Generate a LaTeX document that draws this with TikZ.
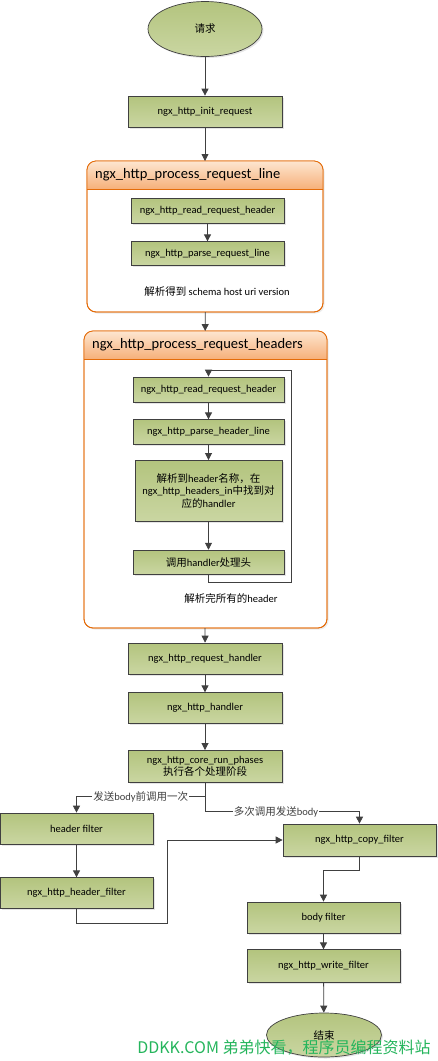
\documentclass[tikz,border=0pt]{standalone}
\usepackage{fontspec}
\setmainfont{Carlito}
\newfontfamily\cjk{Noto Sans CJK SC}
\usetikzlibrary{arrows.meta, positioning, shapes.geometric, shadows, calc}
\definecolor{ngxtop}{HTML}{B3C47E}
\definecolor{ngxbot}{HTML}{CAD6A2}
\definecolor{ngxline}{HTML}{404040}
\definecolor{ngxorange}{HTML}{E46C0A}
\definecolor{ngxpeach}{HTML}{FDE6D0}
\definecolor{ngxamber}{HTML}{F6B07A}
\definecolor{ngxmark}{HTML}{25B55C}
\tikzset{
  fn/.style={rectangle, draw=ngxline, line width=0.7pt, top color=ngxtop, bottom color=ngxbot,
    minimum width=154pt, minimum height=31pt, inner sep=1pt, align=center,
    font=\fontsize{10.5}{12.5}\selectfont,
    drop shadow={shadow xshift=1.5pt, shadow yshift=-1.5pt, opacity=0.2}},
  term/.style={ellipse, draw=ngxline, line width=0.7pt, top color=ngxtop, bottom color=ngxbot,
    minimum width=114pt, minimum height=55pt, inner sep=0pt, font=\fontsize{10.5}{12.5}\selectfont,
    drop shadow={shadow xshift=1.5pt, shadow yshift=-1.5pt, opacity=0.2}},
  grp/.style={rectangle, rounded corners=9pt, draw=ngxorange, line width=0.8pt, fill=white,
    outer sep=0pt, inner sep=0pt,
    drop shadow={shadow xshift=1.5pt, shadow yshift=-1.5pt, opacity=0.15}},
  grphead/.style={anchor=west, inner sep=0pt, font=\fontsize{14.5}{16}\selectfont},
  note/.style={inner sep=1pt, font=\fontsize{10.5}{12.5}\selectfont},
  arr/.style={-{Triangle[length=7pt, width=7pt]}, line width=0.8pt, ngxline},
}

\begin{document}
\begin{tikzpicture}[x=1pt, y=1pt]
    \useasboundingbox[fill=white] (0,0) rectangle (438,-1061);

    \node[term] (req) at (205,-29) {\cjk 请求};
    \node[fn] (init) at (205,-111.5) {ngx\_http\_init\_request};

    % the two orange phase groups
    \node[grp, minimum width=236pt, minimum height=151pt] (gline) at (205,-236.5) {};
    \node[grp, minimum width=243pt, minimum height=297pt] (gheads) at (205.5,-479.5) {};
    \foreach \g in {gline, gheads} {
      \begin{scope}
        \clip[rounded corners=9pt] (\g.north west) rectangle (\g.south east);
        \shade[top color=ngxpeach, bottom color=ngxamber] (\g.north west) rectangle ($(\g.north east)+(0,-28)$);
      \end{scope}
      \draw[ngxorange, line width=0.8pt] ($(\g.north west)+(0,-28)$) -- ($(\g.north east)+(0,-28)$);
      \draw[ngxorange, line width=0.8pt, rounded corners=9pt] (\g.north west) rectangle (\g.south east);
    }
    \node[grphead] (glinettl) at ($(gline.north west)+(8,-14)$) {ngx\_http\_process\_request\_line};
    \node[grphead] (gheadsttl) at ($(gheads.north west)+(8,-14)$) {ngx\_http\_process\_request\_headers};

    \node[fn, minimum width=153pt, minimum height=25pt] (readline) at (207.5,-210.5) {ngx\_http\_read\_request\_header};
    \node[fn, minimum width=153pt, minimum height=24pt, below=18pt of readline] (parseline) {ngx\_http\_parse\_request\_line};
    \node[note] (linenote) at (217,-292) {{\cjk 解析得到} schema host uri version};

    \node[fn, minimum width=151pt, minimum height=25pt] (readhdr) at (208.5,-389.5) {ngx\_http\_read\_request\_header};
    \node[fn, minimum width=151pt, minimum height=25pt, below=17pt of readhdr] (parsehdr) {ngx\_http\_parse\_header\_line};
    \node[fn, minimum width=147pt, minimum height=61pt, below=15pt of parsehdr] (lookup)
      {{\cjk 解析到}header{\cjk 名称，在}\\ngx\_http\_headers\_in{\cjk 中找到对}\\{\cjk 应的}handler};
    \node[fn, minimum width=151pt, minimum height=24pt, below=28pt of lookup] (callhdl) {{\cjk 调用}handler{\cjk 处理头}};
    \node[note] (hdrsnote) at (231,-598) {{\cjk 解析完所有的}header};
    \coordinate (loopturn) at (291,-370);

    \node[fn] (reqhdl) at (205,-658.5) {ngx\_http\_request\_handler};
    \node[fn, below=18pt of reqhdl] (hdl) {ngx\_http\_handler};
    \node[fn, minimum height=32pt, below=26pt of hdl] (phases) {ngx\_http\_core\_run\_phases\\{\cjk 执行各个处理阶段}};

    \node[fn, minimum width=153pt] (hdrflt) at (76.5,-828.5) {header filter};
    \node[fn, minimum width=153pt, below=33pt of hdrflt] (ngxhdrflt) {ngx\_http\_header\_filter};
    \node[fn, minimum width=153pt, minimum height=32pt] (copyflt) at (359.5,-840) {ngx\_http\_copy\_filter};
    \node[fn, minimum width=153pt] (bodyflt) at (323.5,-917.5) {body filter};
    \node[fn, minimum width=153pt, minimum height=33pt, below=16pt of bodyflt] (writeflt) {ngx\_http\_write\_filter};
    \node[term, minimum width=115pt, minimum height=44pt] (fin) at (324,-1035) {\cjk 结束};

    \draw[arr] (req) -- (init);
    \draw[arr] (init) -- (gline);
    \draw[arr] (readline) -- (parseline);
    \draw[arr] (gline) -- (gheads);
    \draw[arr] (readhdr) -- (parsehdr);
    \draw[arr] (parsehdr) -- (lookup);
    \draw[arr] (lookup) -- (callhdl);
    \draw[arr] (callhdl.south) -- ++(0,-8) -| (loopturn) -| (readhdr.north);
    \draw[arr] (gheads) -- (reqhdl);
    \draw[arr] (reqhdl) -- (hdl);
    \draw[arr] (hdl) -- (phases);
    \draw[arr] (phases.south) -- ++(0,-14) -| node[note, fill=white, pos=0.25] {{\cjk 发送}body{\cjk 前调用一次}} (hdrflt.north);
    \draw[arr] (phases.south) -- ++(0,-29) -| node[note, fill=white, pos=0.23] {{\cjk 多次调用发送}body} (copyflt.north);
    \draw[arr] (hdrflt) -- (ngxhdrflt);
    \draw[arr] (ngxhdrflt.south) -- ++(0,-14) -- ++(90.5,0) |- (copyflt.west);
    \draw[arr] (copyflt.south) -- ++(0,-14) -| (bodyflt.north);
    \draw[arr] (bodyflt) -- (writeflt);
    \draw[arr] (writeflt) -- (fin);

    \node[inner sep=0pt, text=ngxmark, font=\cjk\fontsize{16}{18}\selectfont] (mark) at (284,-1048) {DDKK.COM 弟弟快看，程序员编程资料站};
  \end{tikzpicture}
\end{document}
